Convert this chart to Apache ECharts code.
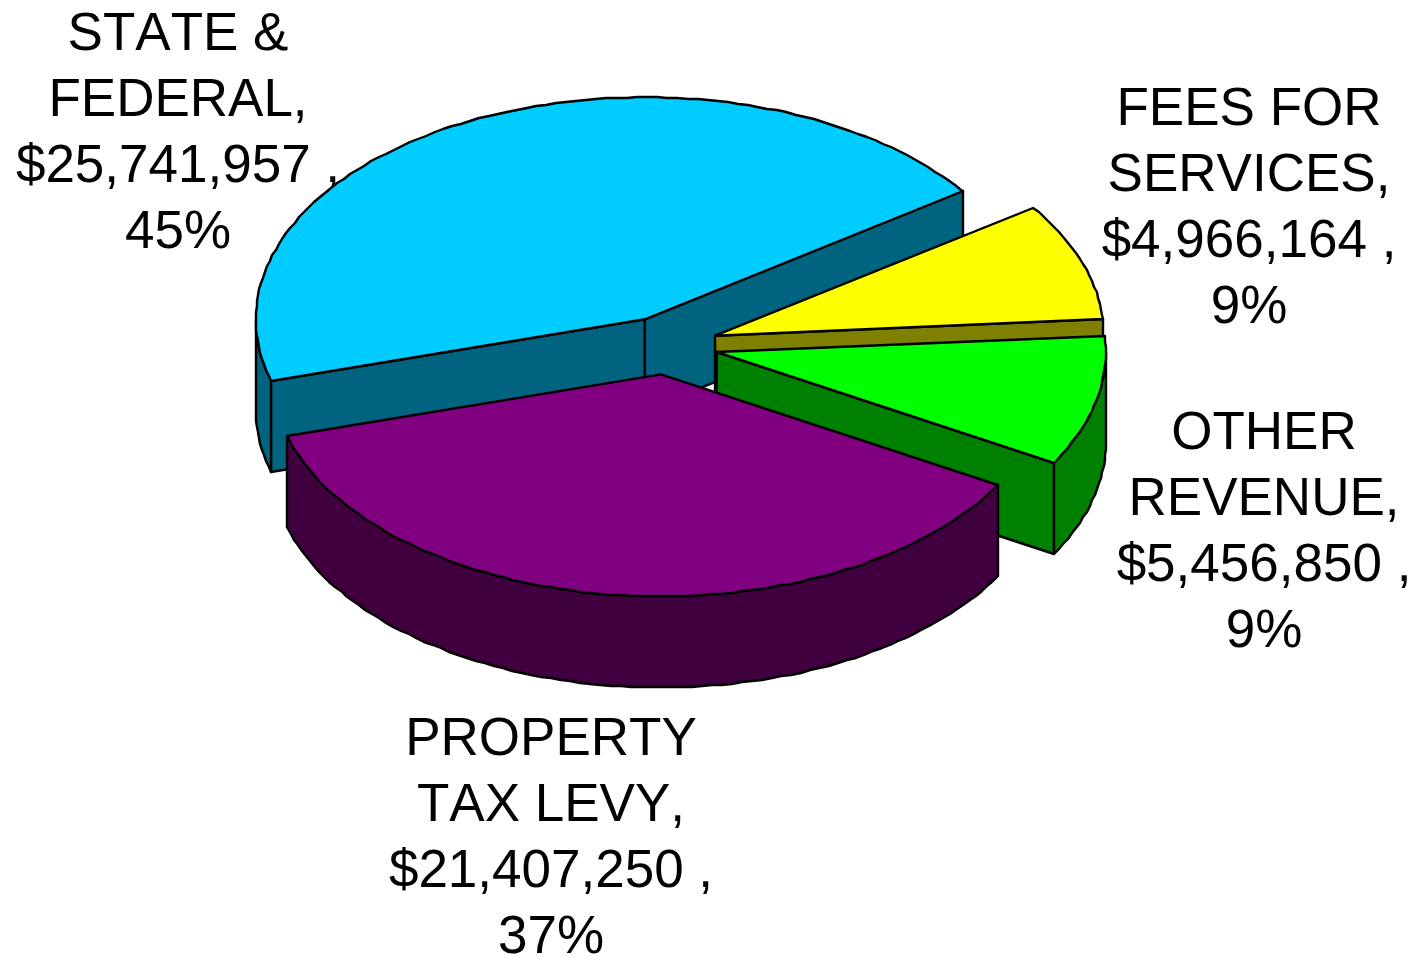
<!DOCTYPE html>
<html>
<head>
<meta charset="utf-8">
<style>html,body{margin:0;padding:0;background:#fff}#c{width:1414px;height:957px}</style>
<script src="https://cdn.jsdelivr.net/npm/echarts@6/dist/echarts.min.js"></script>
</head>
<body>
<div id="c"></div>
<script>
// --- data ---
const categories = ['STATE &\nFEDERAL,', 'FEES FOR\nSERVICES,', 'OTHER\nREVENUE,', 'PROPERTY\nTAX LEVY,'];
const revenue = [25741957, 4966164, 5456850, 21407250];
const percentLabels = ['45%', '9%', '9%', '37%'];
// --- styles / layout ---
const topColors = ['#00CCFF', '#FFFF00', '#00FF00', '#800080'];
const sideColors = ['#006480', '#808000', '#008000', '#400040'];
const labelCenters = [[178, 134], [1249, 209], [1264, 533], [551, 839]];
const PIE = { cx: 667, cy: 345.5, rx: 389, ry: 222, depth: 91, explode: 51, start: 196.2, step: 1.5 };
const EDGE = { stroke: '#000', lineWidth: 2.4, lineJoin: 'round' };

// the reference text is set without kerning
const origGetContext = HTMLCanvasElement.prototype.getContext;
HTMLCanvasElement.prototype.getContext = function () {
  const ctx = origGetContext.apply(this, arguments);
  if (ctx && 'fontKerning' in ctx) ctx.fontKerning = 'none';
  return ctx;
};

const total = revenue.reduce((a, b) => a + b, 0);
const rad = d => d * Math.PI / 180;
function sliceAngles(i) {
  let hi = PIE.start;
  for (let k = 0; k < i; k++) hi -= revenue[k] / total * 360;
  return [hi, hi - revenue[i] / total * 360];
}
function rimPoint(c, a, dy) {
  return [Math.round(c[0] + PIE.rx * Math.cos(rad(a))), Math.round(c[1] - PIE.ry * Math.sin(rad(a)) + (dy || 0))];
}
function arc(c, hi, lo, dy) {
  const pts = [];
  for (let a = hi; a > lo; a -= PIE.step) pts.push(rimPoint(c, a, dy));
  pts.push(rimPoint(c, lo, dy));
  return pts;
}
function poly(points, fill, z2) {
  return { type: 'polygon', shape: { points }, z2, style: Object.assign({ fill }, EDGE) };
}
function renderSlice(params, api) {
  const i = params.dataIndex;
  const [hi, lo] = sliceAngles(i);
  const mid = (hi + lo) / 2;
  const c = [PIE.cx + PIE.explode * Math.cos(rad(mid)),
             PIE.cy - PIE.explode * PIE.ry / PIE.rx * Math.sin(rad(mid))];
  const side = sideColors[i];
  const down = p => [p[0], p[1] + PIE.depth];
  const kids = [];
  // radial walls that face the viewer
  [[hi, hi + 90], [lo, lo - 90]].forEach(([a, n]) => {
    if (Math.sin(rad(n)) < 0) {
      const r = rimPoint(c, a);
      kids.push(poly([c, r, down(r), down(c)], side, 1));
    }
  });
  // outer wall: only the front half of the rim
  [[360, 180], [0, -180]].forEach(([h, l]) => {
    const a = Math.min(hi, h), b = Math.max(lo, l);
    if (a > b) {
      const upper = arc(c, a, b, 0);
      const lower = arc(c, a, b, PIE.depth).reverse();
      kids.push(poly(upper.concat(lower), side, 2));
    }
  });
  // top face
  kids.push(poly([c].concat(arc(c, hi, lo, 0)), topColors[i], 3));
  return { type: 'group', children: kids };
}
function renderLabel(params, api) {
  const i = params.dataIndex;
  const money = '$' + revenue[i].toLocaleString('en-US') + ' ,';
  return {
    type: 'text',
    style: {
      text: categories[i] + '\n' + money + '\n' + percentLabels[i],
      x: labelCenters[i][0], y: labelCenters[i][1],
      align: 'center', verticalAlign: 'middle',
      fontFamily: '"Liberation Sans", Arial, sans-serif',
      fontSize: 53, lineHeight: 66, fill: '#000'
    }
  };
}
const chart = echarts.init(document.getElementById('c'), null, { renderer: 'canvas' });
const rows = revenue.map((v, i) => ({ name: categories[i], value: [v] }));
chart.setOption({
  animation: false,
  backgroundColor: '#fff',
  series: [
    { type: 'custom', name: 'labels', coordinateSystem: 'none', z: 1, silent: true, renderItem: renderLabel, data: rows },
    { type: 'custom', name: 'revenue', coordinateSystem: 'none', z: 2, silent: true, renderItem: renderSlice, data: rows }
  ]
});
</script>
</body>
</html>
